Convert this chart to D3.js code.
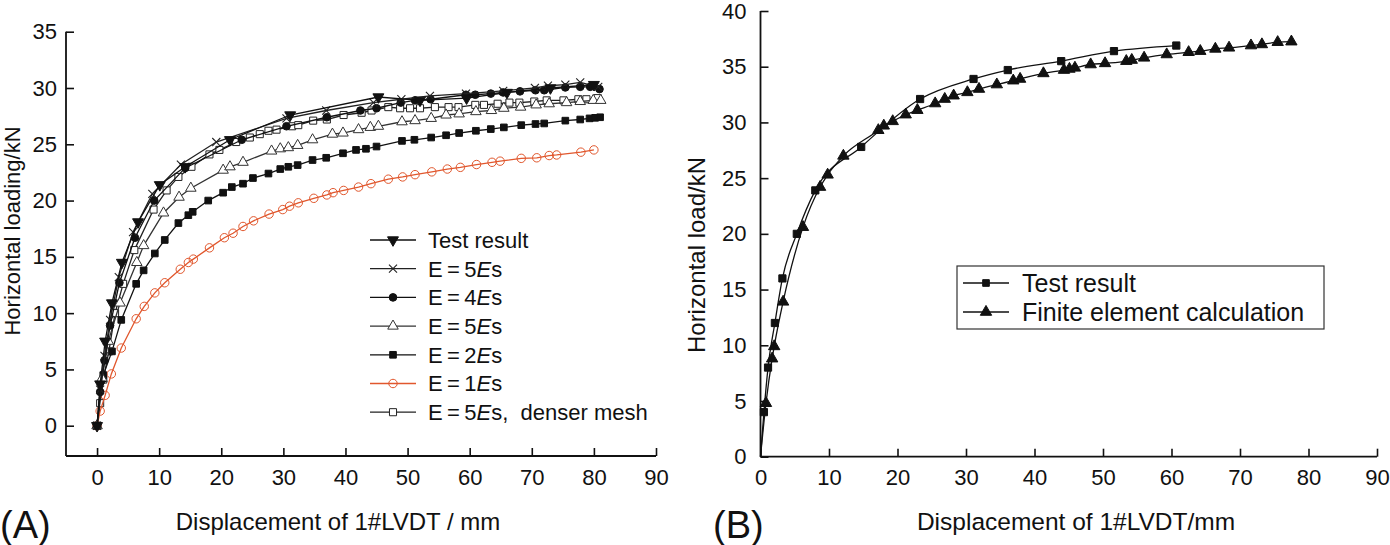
<!DOCTYPE html>
<html><head><meta charset="utf-8">
<script src="https://cdn.jsdelivr.net/npm/d3@7"></script>
<style>body{margin:0;background:#fff}text{font-family:"Liberation Sans",Arial,sans-serif;fill:#111}</style>
</head><body>
<svg id="c" width="1390" height="545"></svg>
<script>
// ---------- Panel A data ----------
const aXTicks = [0,10,20,30,40,50,60,70,80,90];
const aYTicks = [0,5,10,15,20,25,30,35];
const aTest = [[0,0],[0.5,3.7],[1.3,7.5],[2.4,10.9],[4.0,14.5],[6.6,18.1],[10.1,21.4],[14.2,23.0],[21.4,25.4],[31.1,27.6],[45.3,29.2],[52,28.9],[59.5,29.1],[66,29.6],[73,30.0],[80,30.3]];
const aE5 = [[0,0],[0.5,3.2],[1.2,6.2],[2.1,9.4],[3.5,13.2],[5.8,17.2],[8.9,20.6],[13.5,23.2],[19.2,25.2],[30.5,27.3],[36.9,28.0],[44.5,28.7],[49,29.0],[53.6,29.3],[59.4,29.5],[65.4,29.75],[70.5,30.0],[72.6,30.2],[75.4,30.3],[77.8,30.5],[80.7,30.1]];
const aE4 = [[0,0],[0.5,3.0],[1.2,5.8],[2.1,8.9],[3.6,12.7],[6.1,16.7],[9.2,20.0],[14.2,22.9],[23.3,25.4],[30.5,26.6],[37,27.4],[42.4,28.0],[45,28.2],[48.9,28.7],[51.2,28.9],[53.7,29.0],[59.4,29.4],[60.9,29.4],[63.4,29.5],[65.4,29.6],[68.1,29.7],[70.6,29.8],[72,29.8],[75.4,30.05],[77.8,30.1],[79.4,30.1],[80.9,29.9]];
const aE5b = [[0,0],[0.8,4.2],[1.8,7.5],[3.7,10.9],[6.4,14.5],[7.5,16.0],[10.7,18.9],[13.2,20.3],[15.1,21.1],[20.3,22.7],[21.4,23.0],[23.5,23.4],[28.1,24.4],[29.5,24.6],[30.8,24.7],[32.3,24.9],[34.7,25.4],[37.9,25.9],[39.6,26.0],[42.1,26.3],[44,26.5],[45.3,26.6],[49.1,27.0],[51.2,27.1],[53.8,27.3],[56.2,27.6],[58.3,27.7],[61,27.9],[63.5,28.0],[65.5,28.2],[68.2,28.3],[70.7,28.5],[72.8,28.6],[75.6,28.7],[77.8,28.8],[79.9,28.9],[81.1,28.9]];
const aE2 = [[0,0],[1.0,4.5],[2.4,6.6],[3.9,9.4],[6.3,12.6],[7.5,13.8],[9.3,15.3],[10.9,16.5],[13.1,18.0],[14.7,18.7],[15.4,19.0],[17.9,20.0],[20.3,20.7],[21.7,21.2],[23.5,21.5],[25.1,22.0],[27.6,22.4],[29.5,22.8],[30.8,23.0],[32.3,23.15],[34.7,23.6],[36.9,23.8],[39.6,24.2],[41.7,24.5],[43.3,24.6],[45,24.8],[49.1,25.3],[51.1,25.4],[53.8,25.6],[56.2,25.8],[58.3,26.0],[61,26.2],[63.4,26.35],[65.5,26.5],[68.3,26.7],[70.6,26.8],[72,26.85],[75.4,27.1],[77.8,27.2],[79.3,27.3],[80.2,27.35],[81,27.4]];
const aE1 = [[0,0],[0.5,1.3],[1.3,2.7],[2.3,4.6],[3.9,6.9],[6.3,9.5],[7.6,10.6],[9.3,11.8],[10.9,12.7],[13.4,13.9],[14.7,14.5],[15.5,14.8],[18.1,15.8],[20.5,16.7],[21.9,17.1],[23.5,17.7],[25.2,18.2],[27.7,18.8],[29.9,19.2],[31,19.5],[32.4,19.8],[34.9,20.2],[37,20.5],[38,20.7],[39.7,20.9],[42.1,21.2],[44.1,21.5],[46.9,21.9],[49.2,22.1],[51.2,22.3],[53.9,22.55],[56.4,22.8],[58.5,22.95],[61.1,23.2],[63.6,23.4],[64.9,23.5],[68.3,23.75],[70.8,23.8],[72.8,24.0],[74,24.05],[77.9,24.3],[80,24.5]];
const aDense = [[0,0],[0.5,2.0],[1.0,4.1],[1.9,6.6],[2.9,10.0],[4.2,12.6],[6.0,15.6],[9.1,19.2],[11.2,20.9],[13.1,22.1],[15.2,23.0],[18.1,24.1],[19.7,24.5],[22.4,25.2],[24.6,25.6],[26.2,25.9],[27.6,26.2],[28.9,26.3],[31.4,26.6],[32.4,26.7],[34.8,27.1],[37,27.2],[39.7,27.6],[42.6,27.8],[44.2,28.0],[46.9,28.3],[48.8,28.2],[50.4,28.2],[52,28.2],[54.4,28.3],[56.6,28.3],[58.2,28.3],[60.9,28.5],[62.3,28.5],[64.5,28.6],[66.4,28.7],[68,28.7],[70.4,28.8],[72.4,28.9],[75.1,28.9],[77.5,29.0],[78.8,29.0],[80.6,29.1]];
const aLabels = ["Test result","E = 5Es","E = 4Es","E = 5Es","E = 2Es","E = 1Es","E = 5Es,  denser mesh"];

// ---------- Panel B data ----------
const bXTicks = [0,10,20,30,40,50,60,70,80,90];
const bYTicks = [0,5,10,15,20,25,30,35,40];
const bTest = [[0,0],[0.5,4.0],[1.1,8.0],[2.1,12.0],[3.2,16.0],[5.3,20.0],[8.0,23.9],[14.7,27.8],[23.3,32.1],[31.1,33.9],[36.1,34.7],[43.9,35.5],[51.6,36.4],[60.7,36.9]];
const bFE = [[0,0],[0.8,4.8],[1.7,8.8],[2.0,9.9],[3.3,13.9],[6.2,20.6],[8.7,24.2],[9.8,25.3],[12.1,27.0],[17.2,29.3],[18.0,29.7],[19.3,30.1],[21.2,30.7],[22.9,31.1],[25.5,31.7],[26.9,32.1],[28.2,32.4],[30.2,32.7],[31.9,33.0],[34.5,33.4],[36.9,33.75],[37.9,33.9],[41.3,34.4],[44.3,34.7],[45.1,34.8],[45.9,34.9],[48.2,35.2],[50.3,35.3],[53.4,35.5],[54.2,35.6],[56,35.8],[59.3,36.1],[62.5,36.3],[64.2,36.4],[66.4,36.6],[68.4,36.7],[71.6,36.9],[73.2,37.0],[75.5,37.2],[77.5,37.25]];
const bLabels = ["Test result","Finite element calculation"];

const svg = d3.select("#c");
const ORANGE = "#e1572d";
const FS = 22;

function drawAxes(g, x, y, xMaj, xMin, yMaj, yMin, yLabGap) {
  const x0 = x.range()[0], x1 = x.range()[1];
  const yb = y.range()[0], yt = y.range()[1];
  const ax = g.append("g").attr("transform", `translate(0,${yb})`);
  ax.call(d3.axisBottom(x).tickValues(xMin).tickSize(-4).tickFormat(""));
  ax.call(d3.axisBottom(x).tickValues(xMaj).tickSize(-8).tickFormat(d3.format("d")).tickPadding(9));
  ax.selectAll("path.domain").remove();
  ax.selectAll("text").attr("font-size", FS).attr("dy", "0.9em").style("font-family","Liberation Sans, Arial");
  const ay = g.append("g").attr("transform", `translate(${x0},0)`);
  ay.call(d3.axisLeft(y).tickValues(yMin).tickSize(-4).tickFormat(""));
  ay.call(d3.axisLeft(y).tickValues(yMaj).tickSize(-8).tickFormat(d3.format("d")).tickPadding(yLabGap));
  ay.selectAll("path.domain").remove();
  ay.selectAll("text").attr("font-size", FS).style("font-family","Liberation Sans, Arial");
  g.selectAll(".tick line").attr("stroke", "#111").attr("stroke-width", 1.6);
  g.append("line").attr("x1", x0).attr("x2", x1).attr("y1", yb).attr("y2", yb).attr("stroke", "#111").attr("stroke-width", 1.8);
  g.append("line").attr("x1", x0).attr("x2", x0).attr("y1", yb).attr("y2", yt).attr("stroke", "#111").attr("stroke-width", 1.8);
}

function marker(sel, type, color) {
  let sym, fill = color, stroke = color, rot = 0, size;
  if (type === "tdown") { sym = d3.symbolTriangle; size = 52; rot = 180; }
  else if (type === "x") { sym = d3.symbolX; size = 44; fill = "none"; }
  else if (type === "circle") { sym = d3.symbolCircle; size = 46; }
  else if (type === "otri") { sym = d3.symbolTriangle; size = 48; fill = "#fff"; }
  else if (type === "square") { sym = d3.symbolSquare; size = 44; }
  else if (type === "ocircle") { sym = d3.symbolCircle; size = 56; fill = "none"; }
  else if (type === "osquare") { sym = d3.symbolSquare; size = 50; fill = "#fff"; }
  else if (type === "tri") { sym = d3.symbolTriangle; size = 56; }
  else if (type === "bsquare") { sym = d3.symbolSquare; size = 52; }
  sel.append("path").attr("d", d3.symbol(sym, size)())
    .attr("transform", d => `translate(${d[0]},${d[1]}) rotate(${rot})`)
    .attr("fill", fill).attr("stroke", stroke).attr("stroke-width", type === "x" ? 1.1 : 1);
}

// ---------- Panel A ----------
const xA = d3.scaleLinear([-5, 90], [66, 656]);
const yA = d3.scaleLinear([-2.69, 35], [456, 31.7]);
const gA = svg.append("g");
drawAxes(gA, xA, yA, aXTicks, d3.range(5, 90, 10), aYTicks, d3.range(2.5, 35, 5), 9);

const seriesA = [
  {data: aTest, m: "tdown", c: "#111"},
  {data: aE5, m: "x", c: "#222"},
  {data: aE4, m: "circle", c: "#111"},
  {data: aE5b, m: "otri", c: "#333"},
  {data: aE2, m: "square", c: "#111"},
  {data: aE1, m: "ocircle", c: ORANGE},
  {data: aDense, m: "osquare", c: "#222"}
];
const lineA = d3.line().x(d => xA(d[0])).y(d => yA(d[1]));
seriesA.slice().reverse().forEach(s => {
  gA.append("path").attr("d", lineA(s.data)).attr("fill", "none").attr("stroke", s.c).attr("stroke-width", 1.3);
  gA.append("g").selectAll("g").data(s.data.map(d => [xA(d[0]), yA(d[1])])).join("g").call(g => marker(g, s.m, s.c));
});
// legend A
const legA = gA.append("g");
seriesA.forEach((s, i) => {
  const yy = 240 + i * 28.7;
  legA.append("line").attr("x1", 370).attr("x2", 416).attr("y1", yy).attr("y2", yy).attr("stroke", s.c).attr("stroke-width", 1.3);
  legA.append("g").data([[393, yy]]).call(g => marker(g, s.m, s.c));
  const t = legA.append("text").attr("x", 428).attr("y", yy).attr("dy", "0.36em").attr("font-size", 22).style("white-space","pre");
  const lab = aLabels[i];
  if (lab.startsWith("E")) {
    const m = lab.match(/^E = (\d)Es(.*)$/);
    t.append("tspan").text("E\u2009=\u2009" + m[1]);
    t.append("tspan").attr("font-style", "italic").text("E");
    t.append("tspan").text("s" + m[2]);
  } else t.text(lab);
});
gA.append("text").attr("transform", "translate(20,231) rotate(-90)").attr("text-anchor", "middle").attr("font-size", 22).text("Horizontal loading/kN");
gA.append("text").attr("x", 338).attr("y", 530).attr("text-anchor", "middle").attr("font-size", 24).text("Displacement of 1#LVDT / mm");
gA.append("text").attr("x", 0).attr("y", 538).attr("font-size", 38).text("(A)");

// ---------- Panel B ----------
const xB = d3.scaleLinear([0, 90], [760.5, 1377]);
const yB = d3.scaleLinear([0, 40], [456.7, 11]);
const gB = svg.append("g");
drawAxes(gB, xB, yB, bXTicks, d3.range(5, 90, 10), bYTicks, d3.range(2.5, 40, 5), 14);
const lineB = d3.line().x(d => xB(d[0])).y(d => yB(d[1])).curve(d3.curveMonotoneX);
const seriesB = [{data: bTest, m: "bsquare"}, {data: bFE, m: "tri"}];
seriesB.forEach(s => {
  gB.append("path").attr("d", lineB(s.data)).attr("fill", "none").attr("stroke", "#111").attr("stroke-width", 1.3);
  gB.append("g").selectAll("g").data(s.data.slice(1).map(d => [xB(d[0]), yB(d[1])])).join("g").call(g => marker(g, s.m, "#111"));
});
gB.append("rect").attr("x", 957).attr("y", 266).attr("width", 367).attr("height", 63).attr("fill", "none").attr("stroke", "#333").attr("stroke-width", 1.2);
seriesB.forEach((s, i) => {
  const yy = 283 + i * 29;
  gB.append("line").attr("x1", 963).attr("x2", 1009).attr("y1", yy).attr("y2", yy).attr("stroke", "#111").attr("stroke-width", 1.3);
  gB.append("g").data([[986, yy]]).call(g => marker(g, s.m === "tri" ? "tri" : "square", "#111"));
  gB.append("text").attr("x", 1022).attr("y", yy).attr("dy", "0.36em").attr("font-size", 25).text(bLabels[i]);
});
gB.append("text").attr("transform", "translate(705,255) rotate(-90)").attr("text-anchor", "middle").attr("font-size", 24).text("Horizontal load/kN");
gB.append("text").attr("x", 1076).attr("y", 530).attr("text-anchor", "middle").attr("font-size", 24.5).text("Displacement of 1#LVDT/mm");
gB.append("text").attr("x", 713).attr("y", 538).attr("font-size", 38).text("(B)");
</script>
</body></html>
